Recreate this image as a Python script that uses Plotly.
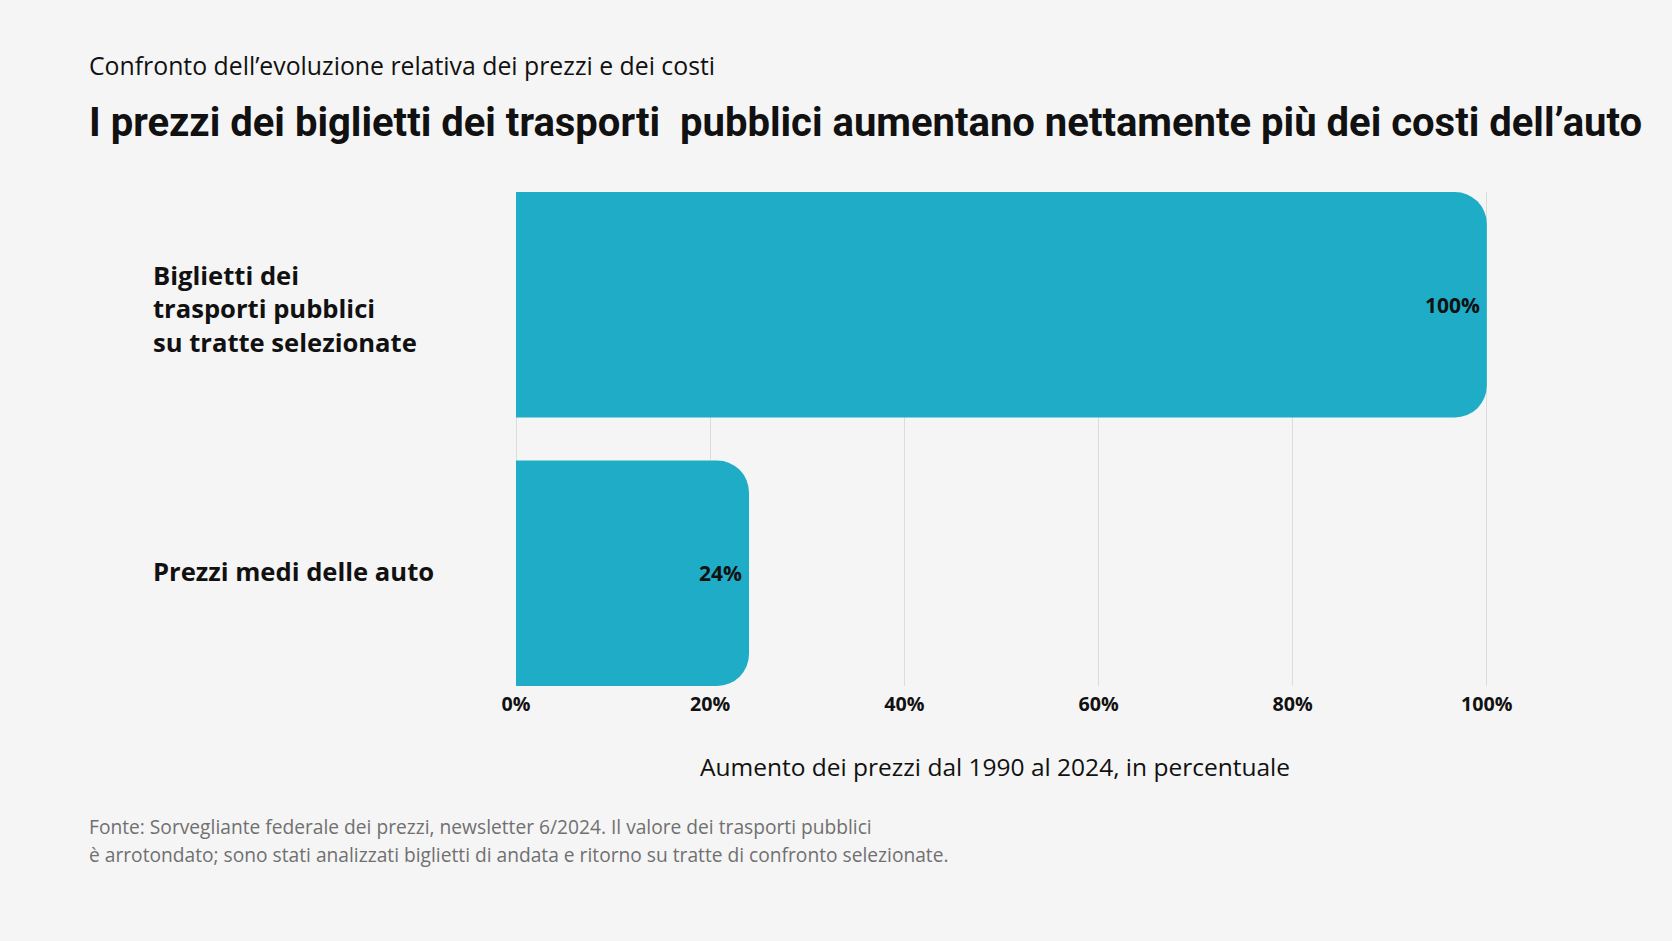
import plotly.graph_objects as go

categories = ["Biglietti dei<br>trasporti pubblici<br>su tratte selezionate", "Prezzi medi delle auto"]
values = [100, 24]
value_labels = ["100%", "24%"]
tick_vals = [0, 20, 40, 60, 80, 100]
tick_text = ["0%", "20%", "40%", "60%", "80%", "100%"]

subtitle = "Confronto dell’evoluzione relativa dei prezzi e dei costi"
title = "I prezzi dei biglietti dei trasporti  pubblici aumentano nettamente più dei costi dell’auto"
x_title = "Aumento dei prezzi dal 1990 al 2024, in percentuale"
source_lines = ["Fonte: Sorvegliante federale dei prezzi, newsletter 6/2024. Il valore dei trasporti pubblici",
                "è arrotondato; sono stati analizzati biglietti di andata e ritorno su tratte di confronto selezionate."]

BAR = "#1FACC6"
BG = "#F5F5F5"
GRID = "#DCDCDC"
TITLE_FONT = "Roboto"
FONT = "Open Sans"

W, H = 1672, 941
ML, MR, MT, MB = 516, 184, 192, 255
PW, PH = W - ML - MR, H - MT - MB


def px_x(x):
    return (x - ML) / PW


def px_y(y):
    return 1 - (y - MT) / PH


fig = go.Figure(go.Bar(
    y=categories, x=values, orientation="h",
    marker=dict(color=BAR, line=dict(width=0)),
    hoverinfo="skip",
))

fig.update_layout(
    width=W, height=H,
    paper_bgcolor=BG, plot_bgcolor=BG,
    margin=dict(l=ML, r=MR, t=MT, b=MB),
    bargap=0.16, barcornerradius=32,
    showlegend=False,
    font=dict(family=FONT, color="#111111"),
    xaxis=dict(
        range=[0, 100.12], tickvals=tick_vals, ticktext=tick_text,
        showgrid=True, gridcolor=GRID, gridwidth=1,
        zeroline=True, zerolinecolor=GRID, zerolinewidth=1,
        showline=False, ticks="", ticklabelstandoff=4,
        tickfont=dict(family=FONT, size=19.7, color="#111111", weight="bold"),
        fixedrange=True,
    ),
    yaxis=dict(
        autorange=False, range=[1.42, -0.42], type="category",
        showticklabels=False, showgrid=False, zeroline=False, showline=False, ticks="",
        fixedrange=True,
    ),
)

# value labels at bar ends
for cat, v, lab in zip(categories, values, value_labels):
    fig.add_annotation(x=v, y=cat, xref="x", yref="y", text=f"<b>{lab}</b>", showarrow=False,
                       xanchor="right", yanchor="middle", xshift=-5,
                       font=dict(family=FONT, size=21, color="#111111"))

# category labels
for i, cat in enumerate(categories):
    fig.add_annotation(
        x=px_x(151), xref="paper", y=cat, yref="y", text=f"<b>{cat}</b>",
        showarrow=False, xanchor="left", yanchor="middle", align="left",
        yshift=-4 if i == 0 else 2,
        font=dict(family=FONT, size=25.6, color="#111111"),
    )

# axis title
fig.add_annotation(x=px_x(995), y=px_y(766), xref="paper", yref="paper", text=x_title, showarrow=False,
                   xanchor="center", yanchor="middle", font=dict(family=FONT, size=24.5, color="#111111"))

fig.add_annotation(x=px_x(86.5), y=px_y(65), xref="paper", yref="paper", text=subtitle, showarrow=False,
                   xanchor="left", yanchor="middle", font=dict(family=FONT, size=24.8, color="#111111"))
fig.add_annotation(x=px_x(86.5), y=px_y(122), xref="paper", yref="paper", text=f"<b>{title}</b>", showarrow=False,
                   xanchor="left", yanchor="middle", font=dict(family=TITLE_FONT, size=40, color="#111111"))
for line, yy in zip(source_lines, [826, 854]):
    fig.add_annotation(x=px_x(86.5), y=px_y(yy), xref="paper", yref="paper", text=line, showarrow=False,
                       xanchor="left", yanchor="middle", align="left",
                       font=dict(family=FONT, size=19.2, color="#707070"))

fig.write_html("out.html", config={"displayModeBar": False},
               post_script="document.body.style.margin='0';document.body.style.background='#F5F5F5';")
